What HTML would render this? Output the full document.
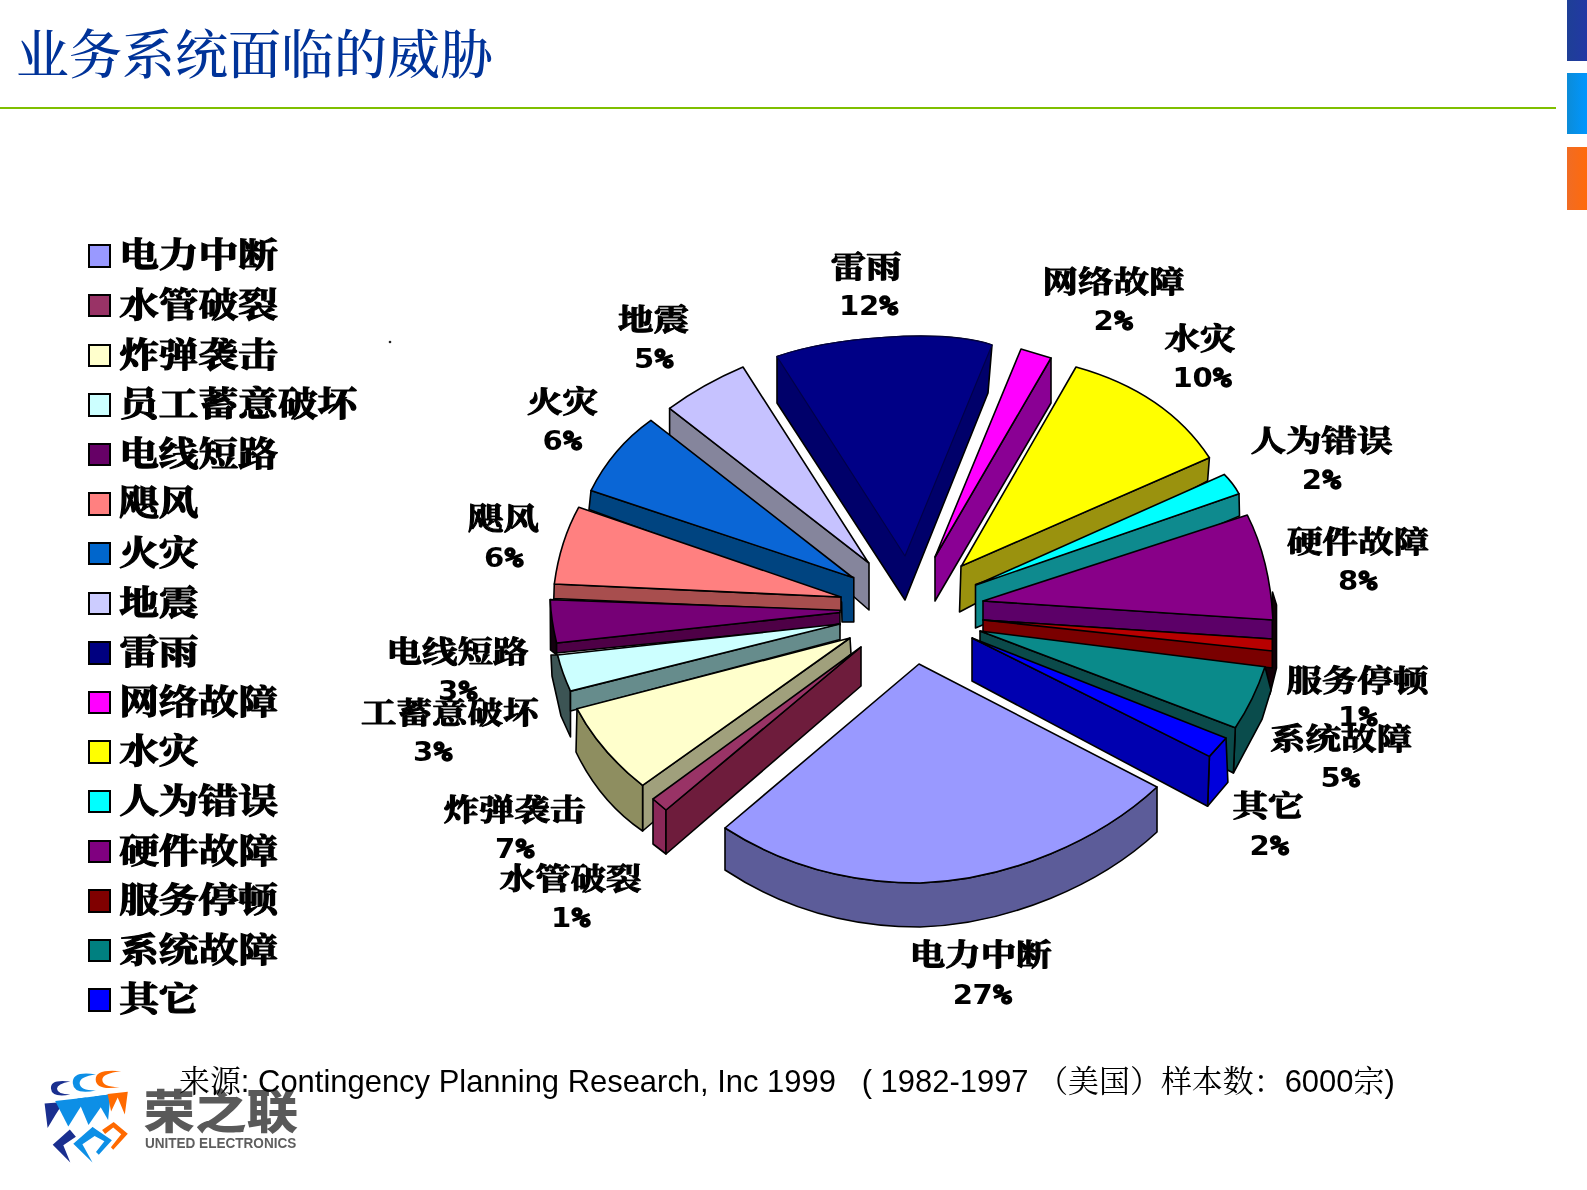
<!DOCTYPE html>
<html lang="zh-CN">
<head>
<meta charset="utf-8">
<title>业务系统面临的威胁</title>
<style>
html,body{margin:0;padding:0;background:#fff;}
body{width:1587px;height:1190px;position:relative;overflow:hidden;font-family:"Liberation Sans","Noto Sans CJK SC",sans-serif;}
.title{position:absolute;left:16px;top:18px;font-family:"Liberation Serif","Noto Serif CJK SC",serif;font-size:53px;line-height:76px;color:#003399;white-space:nowrap;font-weight:500;}
.rule{position:absolute;left:0;top:107px;width:1556px;height:2px;background:#7fbf00;}
.bar{position:absolute;left:1567px;width:20px;}
.b1{top:0;height:61px;background:linear-gradient(90deg,#1e3f96,#2238a4);}
.b2{top:73px;height:61px;background:linear-gradient(90deg,#0b8cd8,#0096ff);}
.b3{top:147px;height:63px;background:linear-gradient(90deg,#f06c24,#ff6a0c);}
.legend{position:absolute;left:0;top:0;filter:blur(0.55px);}
.chart{filter:blur(0.55px);}
.lg{position:absolute;left:87.6px;height:40px;white-space:nowrap;font-family:"Liberation Serif","Noto Serif CJK SC",serif;font-weight:700;font-size:39.7px;line-height:40px;color:#000;-webkit-text-stroke:1.4px #000;}
.lg i{position:absolute;left:0;top:9px;width:19.6px;height:19.4px;border:2px solid #000;display:block;}
.lg span{position:absolute;left:31.6px;top:1px;display:block;transform:scaleY(0.865);transform-origin:50% 50%;}
.src{position:absolute;left:179px;top:1063.5px;font-size:30.95px;line-height:36px;color:#000;white-space:nowrap;font-family:"Liberation Sans","Noto Serif CJK SC",sans-serif;}
svg{position:absolute;left:0;top:0;}
.nm{font-family:"Liberation Serif","Noto Serif CJK SC",serif;font-weight:700;font-size:35.5px;fill:#000;stroke:#000;stroke-width:1.3px;stroke-linejoin:round;}
.pc{font-family:"DejaVu Sans","Liberation Sans",sans-serif;font-weight:bold;font-size:26.5px;fill:#000;}
.lgcn{font-family:"Liberation Sans","Noto Sans CJK SC",sans-serif;font-weight:900;font-size:50px;fill:#595959;}
.lgen{font-family:"Liberation Sans",sans-serif;font-weight:bold;font-size:14px;fill:#5e5e5e;}
.pm{font-family:"DejaVu Sans Mono","Liberation Mono",monospace;font-weight:bold;font-size:26.5px;fill:#000;stroke:#000;stroke-width:1.6;stroke-linejoin:round;}
</style>
</head>
<body>
<div class="title">业务系统面临的威胁</div>
<div class="rule"></div>
<div class="bar b1"></div><div class="bar b2"></div><div class="bar b3"></div>

<div class="legend">
<div class="lg" style="top:235.4px"><i style="background:#9999ff"></i><span>电力中断</span></div>
<div class="lg" style="top:285.0px"><i style="background:#993366"></i><span>水管破裂</span></div>
<div class="lg" style="top:334.6px"><i style="background:#ffffcc"></i><span>炸弹袭击</span></div>
<div class="lg" style="top:384.2px"><i style="background:#ccffff"></i><span>员工蓄意破坏</span></div>
<div class="lg" style="top:433.8px"><i style="background:#660066"></i><span>电线短路</span></div>
<div class="lg" style="top:483.4px"><i style="background:#ff8080"></i><span>飓风</span></div>
<div class="lg" style="top:533.0px"><i style="background:#0066cc"></i><span>火灾</span></div>
<div class="lg" style="top:582.6px"><i style="background:#ccccff"></i><span>地震</span></div>
<div class="lg" style="top:632.2px"><i style="background:#000080"></i><span>雷雨</span></div>
<div class="lg" style="top:681.8px"><i style="background:#ff00ff"></i><span>网络故障</span></div>
<div class="lg" style="top:731.4px"><i style="background:#ffff00"></i><span>水灾</span></div>
<div class="lg" style="top:781.0px"><i style="background:#00ffff"></i><span>人为错误</span></div>
<div class="lg" style="top:830.6px"><i style="background:#800080"></i><span>硬件故障</span></div>
<div class="lg" style="top:880.2px"><i style="background:#800000"></i><span>服务停顿</span></div>
<div class="lg" style="top:929.8px"><i style="background:#008080"></i><span>系统故障</span></div>
<div class="lg" style="top:979.4px"><i style="background:#0000ff"></i><span>其它</span></div>
</div>

<!--PIE-START-->
<svg class="chart" width="1587" height="1190" viewBox="0 0 1587 1190">
<g stroke="#000" stroke-width="1.6" stroke-linejoin="round">
<!-- 雷雨 navy -->
<path d="M777,356.6 C830,338 940,328 992,345 L988,393 L905,600 L777,403 Z" fill="#00006a"/>
<path d="M777,356.6 C830,338 940,328 992,345 L905,556 Z" fill="#000086" stroke="#00004a" stroke-width="1.2"/>
<!-- 网络故障 magenta -->
<path d="M1051,358 L1051,403 L935,601 L935,557 Z" fill="#8a0094"/>
<path d="M1021,349 L1051,358 L935,557 Z" fill="#ff00ff"/>
<!-- 地震 lavender -->
<path d="M669.6,408.3 L669.6,436 L869,610 L869,563 Z" fill="#85859c"/>
<path d="M669.6,408.3 Q703,384 743,367 L868.4,562.7 Z" fill="#c6c2ff"/>
<!-- 水灾 yellow -->
<path d="M1209.4,457.7 L1207.6,481 L959.5,612 L961,566 Z" fill="#9a920e"/>
<path d="M1076,367 Q1166,392 1209.4,457.7 L961.5,566 Z" fill="#ffff00"/>
<!-- 火灾 blue -->
<path d="M591,490.6 L589,509.5 L841.6,602 L842,622 L853.8,622 L853.8,577.5 Z" fill="#004480"/>
<path d="M650.9,420.3 Q612,448 591,490.6 L852.6,577.5 Z" fill="#0a66d6"/>
<!-- 人为错误 cyan -->
<path d="M1239,493.8 L1239.5,516 L975.5,628 L975.5,584.5 Z" fill="#0e8a8e"/>
<path d="M1224.2,474.4 Q1233,483 1239,493.8 L976,585 Z" fill="#00ffff"/>
<!-- 飓风 salmon -->
<path d="M554.3,584 L841,597 L841,611 L553.8,598.5 Z" fill="#a84e4e"/>
<path d="M578.8,507.2 Q560,541 554.3,584 L841,597 Z" fill="#ff8080"/>
<!-- 硬件故障 purple -->
<path d="M1272.5,592 L1276.5,605 L1276.5,668 L1270,694 L1265,667 L1270,651 Z" fill="#120008"/>
<path d="M983,601 L1272.3,619.6 L1272.3,639 L983,620 Z" fill="#5c0068"/>
<path d="M1247.3,515 Q1270,560 1273,620 L983,601 Z" fill="#880088"/>
<!-- 电线短路 dark purple -->
<path d="M550.2,599.6 L550.5,650 L556.6,655 L556.6,643 Z" fill="#12000e"/>
<path d="M556.6,643 L840,612.5 L840,625 L556.6,653 Z" fill="#4e0046"/>
<path d="M550.2,599.6 L840,610.2 L840,612.5 L556.6,643 Q551,620 550.2,599.6 Z" fill="#760076"/>
<!-- 服务停顿 dark red -->
<path d="M983,620 L1272.3,645 L1272.3,668 L983,634.5 Z" fill="#7a0000"/>
<path d="M983,620 L1272.3,639 L1272.3,651 Z" fill="#b80000"/>
<!-- 员工蓄意破坏 light cyan -->
<path d="M557.6,655 L570.5,691.1 L570.5,737 L561,716 L552,676 L551,655 Z" fill="#3c5454"/>
<path d="M570.5,691.1 L840,623.5 L840,639.5 L570.5,711 Z" fill="#668c8c"/>
<path d="M557.6,655 L840,624 L570.5,691.1 Q562,673 557.6,655 Z" fill="#ccffff"/>
<!-- 系统故障 teal -->
<path d="M1265,666.7 L1235.3,727.7 L1233.4,773 L1262,719.4 L1271,690 Z" fill="#0a4c4c"/>
<path d="M980,631 L1235.3,727.7 L1233.4,773 L980,645 Z" fill="#0b4a4a"/>
<path d="M980,631 L1265,666.7 Q1254,700 1235.3,727.7 Z" fill="#0a8a8a"/>
<!-- 炸弹袭击 light yellow -->
<path d="M642.6,785.4 L850,638 L851,654 L642.6,831 Z" fill="#a0a07c"/>
<path d="M577,708.7 L576,752 Q600,802 642.6,831 L642.6,785.4 Q600,752 577,708.7 Z" fill="#8e8e60"/>
<path d="M577,708.7 L850,638 L642.6,785.4 Q600,752 577,708.7 Z" fill="#ffffcc"/>
<!-- 其它 blue -->
<path d="M1226,738 L1209.4,756.4 L1207.6,806.3 L1227.9,782.3 Z" fill="#0000dc"/>
<path d="M972,638 L1209.4,756.4 L1207.6,806.3 L972,681 Z" fill="#0000b0"/>
<path d="M972,638 L1226,738 L1209.4,756.4 Z" fill="#0000ff"/>
<!-- 水管破裂 maroon -->
<path d="M653,799 L666,810 L666,854 L653,844 Z" fill="#8a2858"/>
<path d="M666,810 L861,647 L861,686 L666,854 Z" fill="#6e1c3c"/>
<path d="M653,799 L861,647 L666,810 Z" fill="#993366"/>
<!-- 电力中断 periwinkle -->
<path d="M725,828 C790,870 860,883 920,883 C1010,880 1100,840 1157,787 L1157,832 C1100,885 1010,924 920,927 C860,927 790,913 725,870 Z" fill="#5c5c99"/>
<path d="M919,664 L725,828 C790,870 860,883 920,883 C1010,880 1100,840 1157,787 Z" fill="#9999ff"/>
</g>
<circle cx="390" cy="342" r="1.3" fill="#222" stroke="none"/>
<g class="pl">
<text class="nm" text-anchor="middle" transform="translate(866,267) scale(1,0.83)" x="0" y="12.5">雷雨</text>
<g transform="translate(869,315.2)"><text class="pc" transform="scale(1.1,1)" x="-27.2 -9.2" y="0">12</text><text class="pm" transform="translate(10.6,0) scale(1.15,1)" x="0" y="0">%</text></g>
<text class="nm" text-anchor="middle" transform="translate(1113.5,281.5) scale(1,0.83)" x="0" y="12.5">网络故障</text>
<g transform="translate(1113.5,329.7)"><text class="pc" transform="scale(1.1,1)" x="-18.2" y="0">2</text><text class="pm" transform="translate(0.7,0) scale(1.15,1)" x="0" y="0">%</text></g>
<text class="nm" text-anchor="middle" transform="translate(1200,338.5) scale(1,0.83)" x="0" y="12.5">水灾</text>
<g transform="translate(1202.5,386.7)"><text class="pc" transform="scale(1.1,1)" x="-27.2 -9.2" y="0">10</text><text class="pm" transform="translate(10.6,0) scale(1.15,1)" x="0" y="0">%</text></g>
<text class="nm" text-anchor="middle" transform="translate(1321.5,440.5) scale(1,0.83)" x="0" y="12.5">人为错误</text>
<g transform="translate(1321.7,489.2)"><text class="pc" transform="scale(1.1,1)" x="-18.2" y="0">2</text><text class="pm" transform="translate(0.7,0) scale(1.15,1)" x="0" y="0">%</text></g>
<text class="nm" text-anchor="middle" transform="translate(1358,541.5) scale(1,0.83)" x="0" y="12.5">硬件故障</text>
<g transform="translate(1358,590.2)"><text class="pc" transform="scale(1.1,1)" x="-18.2" y="0">8</text><text class="pm" transform="translate(0.7,0) scale(1.15,1)" x="0" y="0">%</text></g>
<text class="nm" text-anchor="middle" transform="translate(1357.5,680.5) scale(1,0.83)" x="0" y="12.5">服务停顿</text>
<g transform="translate(1358,726.2)"><text class="pc" transform="scale(1.1,1)" x="-18.2" y="0">1</text><text class="pm" transform="translate(0.7,0) scale(1.15,1)" x="0" y="0">%</text></g>
<text class="nm" text-anchor="middle" transform="translate(1341,738.5) scale(1,0.83)" x="0" y="12.5">系统故障</text>
<g transform="translate(1340.5,786.7)"><text class="pc" transform="scale(1.1,1)" x="-18.2" y="0">5</text><text class="pm" transform="translate(0.7,0) scale(1.15,1)" x="0" y="0">%</text></g>
<text class="nm" text-anchor="middle" transform="translate(1268,805.5) scale(1,0.83)" x="0" y="12.5">其它</text>
<g transform="translate(1269.5,854.7)"><text class="pc" transform="scale(1.1,1)" x="-18.2" y="0">2</text><text class="pm" transform="translate(0.7,0) scale(1.15,1)" x="0" y="0">%</text></g>
<text class="nm" text-anchor="middle" transform="translate(980.7,954.7) scale(1,0.83)" x="0" y="12.5">电力中断</text>
<g transform="translate(982.7,1003.9)"><text class="pc" transform="scale(1.1,1)" x="-27.2 -9.2" y="0">27</text><text class="pm" transform="translate(10.6,0) scale(1.15,1)" x="0" y="0">%</text></g>
<text class="nm" text-anchor="middle" transform="translate(570.5,878.5) scale(1,0.83)" x="0" y="12.5">水管破裂</text>
<g transform="translate(571,927.2)"><text class="pc" transform="scale(1.1,1)" x="-18.2" y="0">1</text><text class="pm" transform="translate(0.7,0) scale(1.15,1)" x="0" y="0">%</text></g>
<text class="nm" text-anchor="middle" transform="translate(514.5,809.5) scale(1,0.83)" x="0" y="12.5">炸弹袭击</text>
<g transform="translate(515,858.2)"><text class="pc" transform="scale(1.1,1)" x="-18.2" y="0">7</text><text class="pm" transform="translate(0.7,0) scale(1.15,1)" x="0" y="0">%</text></g>
<text class="nm" text-anchor="middle" transform="translate(457.5,651.5) scale(1,0.83)" x="0" y="12.5">电线短路</text>
<g transform="translate(458,700.2)"><text class="pc" transform="scale(1.1,1)" x="-18.2" y="0">3</text><text class="pm" transform="translate(0.7,0) scale(1.15,1)" x="0" y="0">%</text></g>
<text class="nm" text-anchor="middle" transform="translate(449.8,712.5) scale(1,0.83)" x="0" y="12.5">工蓄意破坏</text>
<g transform="translate(433,761.2)"><text class="pc" transform="scale(1.1,1)" x="-18.2" y="0">3</text><text class="pm" transform="translate(0.7,0) scale(1.15,1)" x="0" y="0">%</text></g>
<text class="nm" text-anchor="middle" transform="translate(503.5,519) scale(1,0.83)" x="0" y="12.5">飓风</text>
<g transform="translate(504,566.7)"><text class="pc" transform="scale(1.1,1)" x="-18.2" y="0">6</text><text class="pm" transform="translate(0.7,0) scale(1.15,1)" x="0" y="0">%</text></g>
<text class="nm" text-anchor="middle" transform="translate(562.5,401.5) scale(1,0.83)" x="0" y="12.5">火灾</text>
<g transform="translate(562.5,450.2)"><text class="pc" transform="scale(1.1,1)" x="-18.2" y="0">6</text><text class="pm" transform="translate(0.7,0) scale(1.15,1)" x="0" y="0">%</text></g>
<text class="nm" text-anchor="middle" transform="translate(653.5,319.5) scale(1,0.83)" x="0" y="12.5">地震</text>
<g transform="translate(654,367.7)"><text class="pc" transform="scale(1.1,1)" x="-18.2" y="0">5</text><text class="pm" transform="translate(0.7,0) scale(1.15,1)" x="0" y="0">%</text></g>
</g>
</svg>
<!--PIE-END-->

<!--LOGO-START-->
<svg width="1587" height="1190" viewBox="0 0 1587 1190">
<g class="logo">
<path d="M 70.3,1081.5 Q 49.7,1078.7 51.0,1088.8 Q 51.7,1097.9 70.3,1094.6 Q 57.4,1094.4 57.0,1088.8 Q 57.0,1083.8 70.3,1081.5 Z" fill="#1a2f8f"/>
<path d="M 96.0,1074.5 Q 71.8,1070.7 72.8,1083.3 Q 73.5,1094.9 96.0,1090.5 Q 80.4,1090.8 79.6,1083.3 Q 79.6,1076.4 96.0,1074.5 Z" fill="#0d8fe6"/>
<path d="M 121.2,1071.2 Q 95.0,1068.6 95.7,1079.7 Q 96.2,1090.8 119.7,1087.0 Q 102.8,1087.3 102.3,1079.7 Q 102.3,1073.4 121.2,1071.2 Z" fill="#ff6a00"/>
<polygon points="44.6,1103.4 63.8,1101.9 55.7,1114.5 47.6,1128.1" fill="#1a2f8f"/>
<polygon points="55.2,1100.9 86.5,1097.4 68.3,1126.6" fill="#0d8fe6"/>
<polygon points="77.4,1098.4 109.6,1094.4 88.5,1125.1" fill="#0d8fe6"/>
<polygon points="94.5,1096.4 110.6,1094.2 108.1,1120.1" fill="#0d8fe6"/>
<polygon points="107.6,1093.9 127.8,1091.8 124.8,1114.5 117.7,1097.4 111.1,1111.5" fill="#ff6a00"/>
<polygon points="69.8,1129.6 75.9,1136.7 63.3,1145.3 70.3,1162.4 52.7,1144.8" fill="#1a2f8f"/>
<polygon points="92.5,1127.1 99.1,1132.9 82.4,1144.3 92.5,1162.4 73.3,1143.8" fill="#0d8fe6"/>
<polygon points="92.5,1127.1 111.9,1140.2 98.8,1154.8 96.0,1152.0 104.4,1141.2 90.0,1133.5" fill="#0d8fe6"/>
<polygon points="113.7,1122.1 127.8,1133.7 113.2,1149.8 110.9,1147.3 121.2,1134.2 113.2,1127.4 105.1,1133.9 102.1,1130.1" fill="#ff6a00"/>
<text class="lgcn" transform="translate(143.4,1127.8) scale(1,0.92)" x="0" y="0" textLength="154.6" lengthAdjust="spacingAndGlyphs">荣之联</text>
<text class="lgen" x="144.9" y="1147.6" textLength="151.4" lengthAdjust="spacingAndGlyphs">UNITED ELECTRONICS</text>
</g></svg>
<!--LOGO-END-->
<div class="src">来源: Contingency Planning Research, Inc 1999 &nbsp; ( 1982-1997 （美国）样本数：6000宗)</div>

</body>
</html>
